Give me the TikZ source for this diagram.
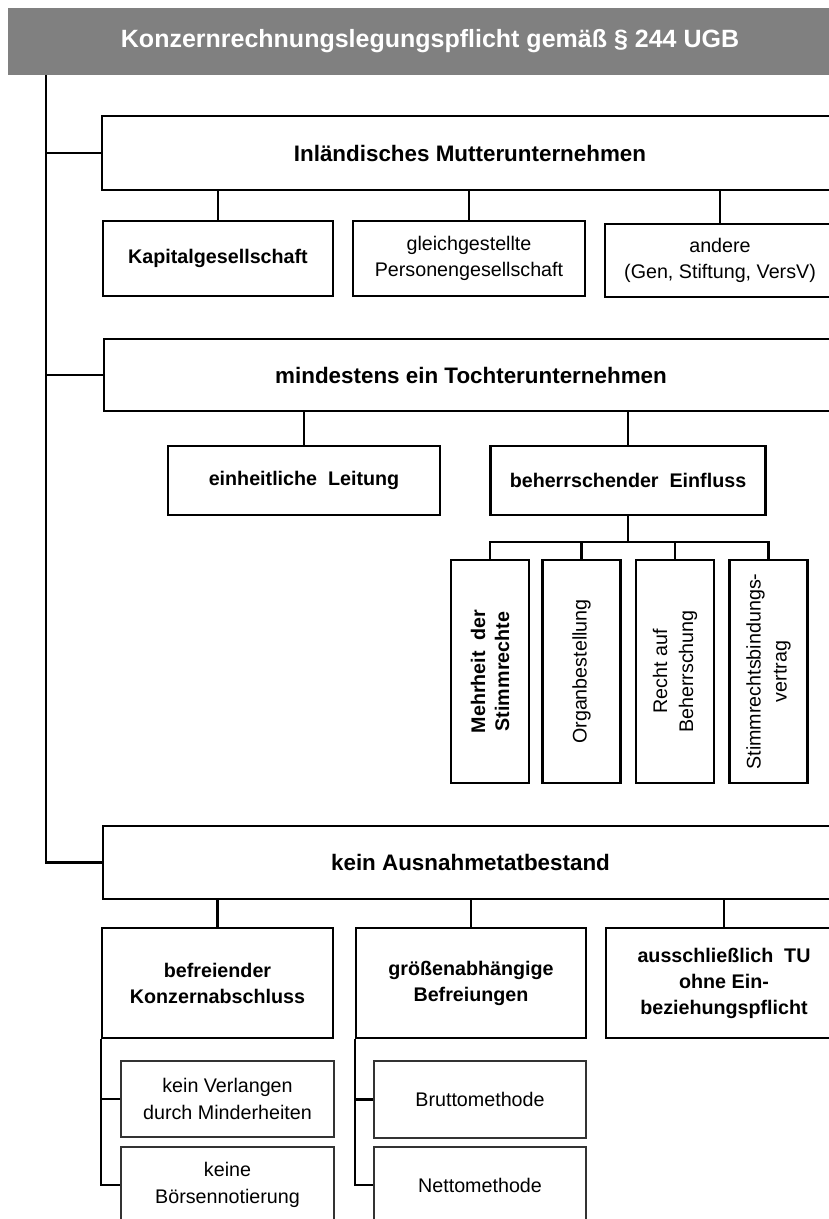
\documentclass[tikz,border=0pt]{standalone}
\usepackage{fontspec}
\setmainfont{Liberation Sans}
\definecolor{hdrgray}{RGB}{128,128,128}
\begin{document}
\begin{tikzpicture}[x=1pt,y=-1pt,
  box/.style={draw,line width=2.5pt,inner sep=2pt,align=center,
    font=\fontsize{19.7}{26}\selectfont},
  bbox/.style={box,font=\fontsize{19.7}{26}\selectfont\bfseries},
  titlebox/.style={box,font=\fontsize{22.4}{28}\selectfont\bfseries},
  subbox/.style={draw=black!80,line width=1.3pt,inner sep=2pt,align=center,
    font=\fontsize{19.7}{26.5}\selectfont},
  vbox/.style={box,rotate=90,minimum width=223pt,minimum height=78pt},
  link/.style={line width=2.5pt}]
\useasboundingbox (0,0) rectangle (829,1219);
\clip (0,0) rectangle (829,1219);

% header band
\node[fill=hdrgray,minimum width=844pt,minimum height=67pt,inner sep=0pt,
  text=white,font=\fontsize{25}{30}\selectfont\bfseries]
  (hdr) at (430,41.5) {Konzernrechnungslegungspflicht gemäß § 244 UGB};

% first level
\node[titlebox,minimum width=736pt,minimum height=74pt] (A) at (470,153)
  {Inländisches Mutterunternehmen};
\node[titlebox,minimum width=734pt,minimum height=72pt] (B) at (471,375)
  {mindestens ein Tochterunternehmen};
\node[titlebox,minimum width=735pt,minimum height=73pt] (C) at (470.5,862.5)
  {kein Ausnahmetatbestand};

% trunk on the left
\coordinate (t0) at (46,75);
\draw[link] (t0) |- (C.west);
\draw[link] (A.west) -- (A.west -| t0);
\draw[link] (B.west) -- (B.west -| t0);

% parent company types
\node[bbox,minimum width=230pt,minimum height=75pt] (K) at (218,258.5)
  {Kapitalgesellschaft};
\node[box,minimum width=232pt,minimum height=75pt] (G) at (469,258.5)
  {gleichgestellte\\Personengesellschaft};
\node[box,minimum width=230pt,minimum height=73pt] (An) at (720,260.5)
  {andere\\(Gen, Stiftung, VersV)};
\foreach \n in {K,G,An} \draw[link] (\n.north) -- (\n.north |- A.south);

% control concepts
\node[bbox,minimum width=272pt,minimum height=69pt] (EL) at (304,480.5)
  {einheitliche\ \ Leitung};
\node[bbox,minimum width=275pt,minimum height=69pt] (BE) at (628,480.5)
  {beherrschender\ \ Einfluss};
\foreach \n in {EL,BE} \draw[link] (\n.north) -- (\n.north |- B.south);

% forms of dominant influence (text runs upwards)
\node[vbox,font=\fontsize{19.7}{24}\selectfont\bfseries] (V1) at (490,671.5)
  {Mehrheit\ \ der\\Stimmrechte};
\node[vbox] (V2) at (581.5,671.5) {Organbestellung};
\node[vbox] (V3) at (675,671.5) {Recht auf\\Beherrschung};
\node[vbox] (V4) at (768.5,671.5) {Stimmrechtsbindungs-\\vertrag};
\coordinate (barY) at (0,542);
\draw[link] (BE.south) -- (BE.south |- barY);
\draw[link] (V1.east) -- (V1.east |- barY) -- (V4.east |- barY) -- (V4.east);
\draw[link] (V2.east) -- (V2.east |- barY);
\draw[link] (V3.east) -- (V3.east |- barY);

% exemptions
\node[bbox,minimum width=231pt,minimum height=110pt] (E1) at (217.5,983)
  {befreiender\\Konzernabschluss};
\node[bbox,minimum width=230pt,minimum height=110pt] (E2) at (471,983)
  {größenabhängige\\Befreiungen};
\node[bbox,minimum width=236pt,minimum height=110pt] (E3) at (724,983)
  {ausschließlich\ \ TU\\ohne Ein-\\beziehungspflicht};
\foreach \n in {E1,E2,E3} \draw[link] (\n.north) -- (\n.north |- C.south);

% conditions below the exemptions
\node[subbox,minimum width=213pt,minimum height=76pt] (S1) at (227.5,1099)
  {kein Verlangen\\durch Minderheiten};
\node[subbox,minimum width=213pt,minimum height=76pt] (S2) at (227.5,1185)
  {keine\\Börsennotierung};
\node[subbox,minimum width=212pt,minimum height=77pt] (S3) at (480,1099.5)
  {Bruttomethode};
\node[subbox,minimum width=212pt,minimum height=76pt] (S4) at (480,1185)
  {Nettomethode};
\draw[link] (E1.south west) |- (S2.west);
\draw[link] (S1.west) -- (S1.west -| E1.south west);
\draw[link] (E2.south west) |- (S4.west);
\draw[link] (S3.west) -- (S3.west -| E2.south west);
\end{tikzpicture}
\end{document}
